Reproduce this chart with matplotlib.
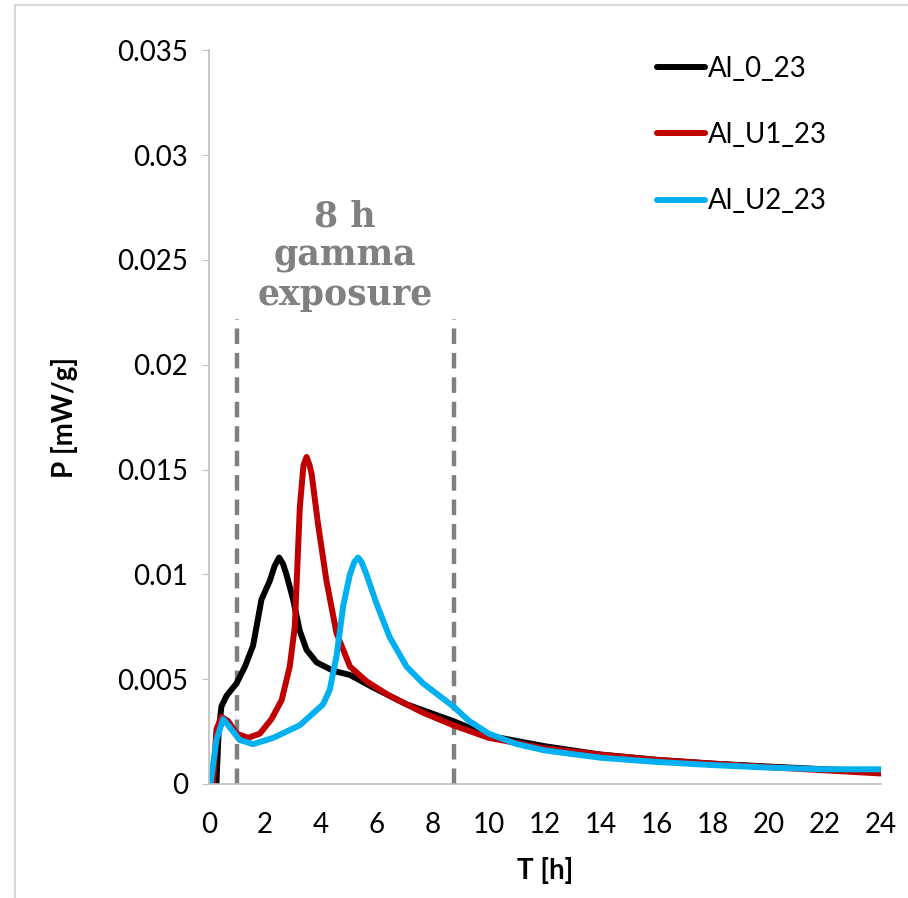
import matplotlib
matplotlib.use("Agg")
import matplotlib.pyplot as plt
from matplotlib.patches import Rectangle
from matplotlib.ticker import FuncFormatter, MultipleLocator

# data
t_al0 = [0.27, 0.35, 0.45, 0.63, 0.99, 1.29, 1.58, 1.88, 2.18, 2.35, 2.51, 2.65, 2.77, 3.01,
         3.25, 3.49, 3.85, 4.44, 5.04, 5.87, 7.06, 8.73, 10, 12, 14, 16, 18, 20, 22, 24]
p_al0 = [0.0, 0.0025, 0.0037, 0.0042, 0.0048, 0.0056, 0.0066, 0.0088, 0.0097, 0.0104, 0.0108,
         0.0105, 0.0100, 0.0088, 0.0073, 0.0064, 0.0058, 0.0054, 0.0052, 0.0046, 0.0038, 0.0030,
         0.0023, 0.0018, 0.0014, 0.00115, 0.00097, 0.00083, 0.0007, 0.0006]

t_u1 = [0.15, 0.27, 0.45, 0.69, 0.99, 1.4, 1.82, 2.24, 2.6, 2.89, 3.07, 3.25, 3.38, 3.49, 3.6,
        3.67, 3.9, 4.2, 4.56, 5.04, 5.63, 6.46, 7.65, 8.73, 10, 12, 14, 16, 18, 20, 22, 24]
p_u1 = [0.0, 0.0026, 0.0032, 0.0030, 0.0024, 0.0022, 0.0024, 0.0031, 0.0040, 0.0056, 0.0075,
        0.0132, 0.0152, 0.0156, 0.0152, 0.0148, 0.0124, 0.0097, 0.0072, 0.0056, 0.0049, 0.0042,
        0.0034, 0.0028, 0.0022, 0.0017, 0.0014, 0.00115, 0.00097, 0.0008, 0.00065, 0.0005]

t_u2 = [0.06, 0.27, 0.51, 0.81, 1.1, 1.58, 2.3, 3.25, 4.08, 4.32, 4.56, 4.8, 5.04, 5.2, 5.33,
        5.45, 5.63, 5.99, 6.46, 7.06, 7.65, 8.73, 9.3, 10, 11, 12, 14, 16, 18, 20, 22, 24]
p_u2 = [0.0, 0.0021, 0.0031, 0.0026, 0.0021, 0.0019, 0.0022, 0.0028, 0.0038, 0.0045, 0.0061,
        0.0085, 0.0100, 0.0106, 0.0108, 0.0106, 0.0100, 0.0086, 0.0070, 0.0056, 0.0048, 0.0037,
        0.0030, 0.0024, 0.0019, 0.0016, 0.00125, 0.00105, 0.0009, 0.00078, 0.0007, 0.0007]

labels = ["Al_0_23", "Al_U1_23", "Al_U2_23"]
colors = ["#000000", "#C00000", "#00B0F0"]
exposure = [1.0, 8.75]

plt.rcParams['font.family'] = ['Lato', 'DejaVu Sans']
fs = 20

fig = plt.figure(figsize=(9.08, 8.98), dpi=100)
ax = fig.add_axes([0.230, 0.127, 0.740, 0.817])

for tt, pp, lab, c in zip([t_al0, t_u1, t_u2], [p_al0, p_u1, p_u2], labels, colors):
    ax.plot(tt, pp, color=c, lw=4.3, label=lab, solid_joinstyle='round',
            solid_capstyle='round')

for xv in exposure:
    ax.plot([xv, xv], [0, 0.0222], color='#808080', lw=3.2, ls=(0, (3.5, 2)), zorder=1,
            clip_on=False)

ax.text(4.86, 0.0252, "8 h\ngamma\nexposure", ha='center', va='center', color='#808080',
        fontsize=25, fontweight='bold', family='DejaVu Serif', linespacing=1.2)

ax.set_xlim(0, 24)
ax.set_ylim(0, 0.035)
ax.xaxis.set_major_locator(MultipleLocator(2))
ax.yaxis.set_major_locator(MultipleLocator(0.005))
ax.yaxis.set_major_formatter(FuncFormatter(lambda v, p: '{:g}'.format(round(v, 4))))

for s in ['top', 'right']:
    ax.spines[s].set_visible(False)
for s in ['left', 'bottom']:
    ax.spines[s].set_color('#bfbfbf')
    ax.spines[s].set_linewidth(1.2)
ax.tick_params(axis='y', length=5, color='#bfbfbf', labelsize=fs, pad=10)
ax.tick_params(axis='x', length=0, labelsize=fs, pad=20)

ax.set_xlabel("T [h]", fontsize=fs, fontweight='bold', labelpad=14)
ax.set_ylabel("P [mW/g]", fontsize=fs, fontweight='bold', labelpad=28)

ax.legend(loc='center left', bbox_to_anchor=(0.711, 1 - 135 / 898),
          bbox_transform=fig.transFigure, frameon=False, fontsize=fs, handlelength=1.73,
          handletextpad=0.1, labelspacing=1.45, borderaxespad=0)

fig.add_artist(Rectangle((0.0165, -0.5), 2, 0.5 + 0.9944, transform=fig.transFigure,
                         fill=False, edgecolor='#d9d9d9', lw=1.5))

fig.savefig("out.png", dpi=100)
